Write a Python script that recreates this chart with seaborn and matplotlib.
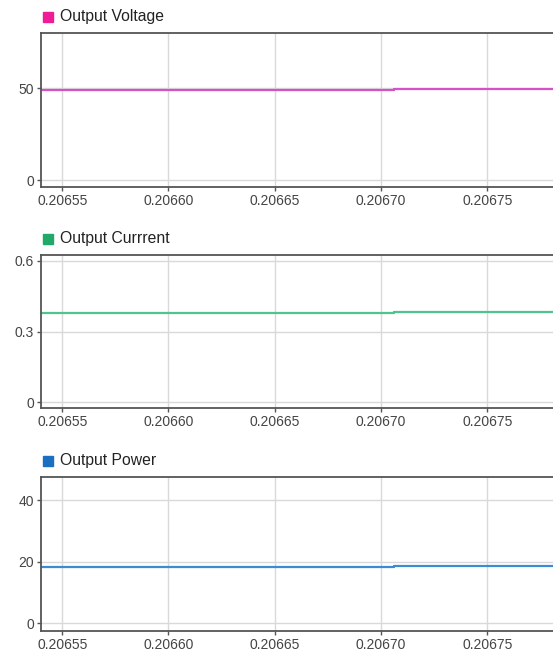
import pandas as pd
import numpy as np
import matplotlib
matplotlib.use("Agg")
import matplotlib.pyplot as plt
import matplotlib.patches as mpatches
import seaborn as sns

# sample times (s) and step values
time = [0.20654, 0.206706, 0.206782]
voltage = [48.9, 49.5, 49.5]
current = [0.379, 0.384, 0.384]
power = [18.1, 18.6, 18.6]

titles = ["Output Voltage", "Output Currrent", "Output Power"]
box_colors = ["#ee1c96", "#22a86a", "#1a6fc0"]
line_colors = ["#d651c3", "#4fc58d", "#3a8dd2"]
y_ticks = [[0, 50], [0, 0.3, 0.6], [0, 20, 40]]
y_tick_labels = [["0", "50"], ["0", "0.3", "0.6"], ["0", "20", "40"]]
y_limits = [(-3.8, 80), (-0.0255, 0.6255), (-2.6, 47.5)]
x_ticks = [0.20655, 0.20660, 0.20665, 0.20670, 0.20675]
x_tick_labels = ["0.20655", "0.20660", "0.20665", "0.20670", "0.20675"]


def main():
    sns.set_theme(style="white")
    plt.rcParams['font.family'] = ['Liberation Sans', 'DejaVu Sans']

    df = pd.DataFrame({"time": time, "Output Voltage": voltage,
                       "Output Currrent": current, "Output Power": power})

    fig = plt.figure(figsize=(5.53, 6.52), dpi=100)
    # axes boxes in figure fractions (left, bottom, width, height)
    boxes = [[0.0741, 0.7132, 0.93, 0.2362],
             [0.0741, 0.3742, 0.93, 0.2347],
             [0.0741, 0.0322, 0.93, 0.2362]]
    # where the title row sits (figure pixels from top)
    title_rows = [17, 239, 461]

    for i, name in enumerate(titles):
        ax = fig.add_axes(boxes[i])
        sns.lineplot(data=df, x="time", y=name, ax=ax, color=line_colors[i],
                     drawstyle="steps-post", linewidth=1.6)
        ax.set_xlim(time[0], time[-1])
        ax.set_ylim(*y_limits[i])
        ax.set_xticks(x_ticks)
        ax.set_xticklabels(x_tick_labels)
        ax.set_yticks(y_ticks[i])
        ax.set_yticklabels(y_tick_labels[i])
        ax.set_xlabel("")
        ax.set_ylabel("")
        ax.grid(True, color="#d9d9d9", linewidth=1)
        ax.set_axisbelow(True)
        for s in ["top", "left", "bottom"]:
            ax.spines[s].set_color("#555555")
            ax.spines[s].set_linewidth(1.3)
        ax.spines["right"].set_visible(False)
        ax.tick_params(axis="both", length=3, width=1, color="#555555",
                       labelsize=10, labelcolor="#444444", pad=2,
                       left=True, bottom=True)

        # legend-like title above the panel
        yc = 1 - title_rows[i] / 652
        fig.patches.append(mpatches.Rectangle(
            (43 / 553, yc - 4.5 / 652), 9.5 / 553, 9.5 / 652,
            transform=fig.transFigure, color=box_colors[i], zorder=3))
        fig.text(60 / 553, yc, name, color="#222222", fontsize=11.3,
                 va="center", ha="left")

    fig.savefig("out.png", dpi=100)


if __name__ == "__main__":
    main()
